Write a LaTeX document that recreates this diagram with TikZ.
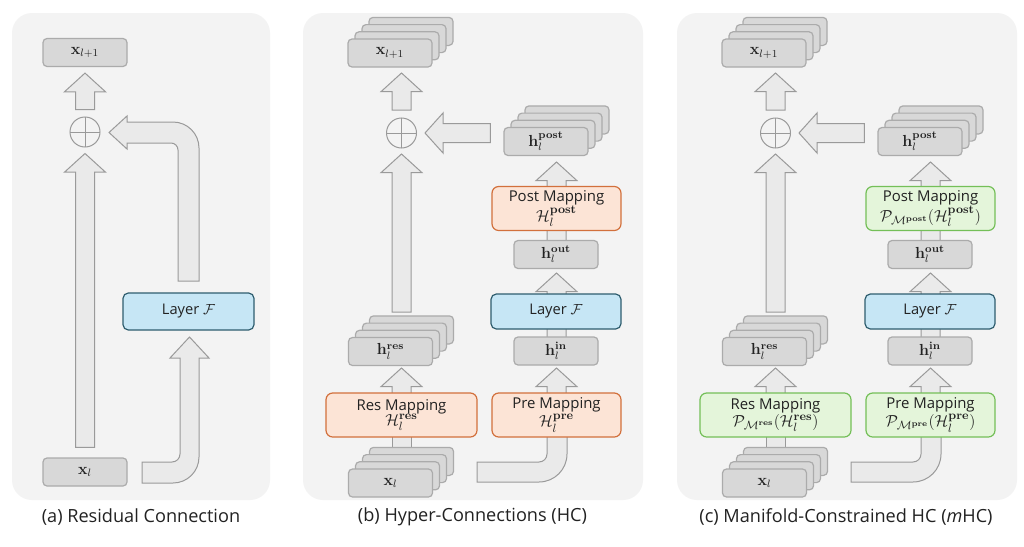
\documentclass[tikz,border=0pt]{standalone}
\usepackage[no-math]{fontspec}
\setmainfont{Open Sans}
\usepackage{amsmath}
\usetikzlibrary{calc}
\definecolor{panelbg}{HTML}{F3F3F3}
\definecolor{arrfill}{HTML}{EAEAEA}
\definecolor{arrline}{HTML}{9A9A9A}
\definecolor{gfill}{HTML}{D8D8D8}
\definecolor{gline}{HTML}{ABABAB}
\definecolor{lfill}{HTML}{C6E6F5}
\definecolor{lline}{HTML}{2E5D6E}
\definecolor{ofill}{HTML}{FCE4D6}
\definecolor{oline}{HTML}{D2703C}
\definecolor{nfill}{HTML}{E4F5DA}
\definecolor{nline}{HTML}{74BF58}
\definecolor{txt}{HTML}{222222}
\tikzset{
  panel/.style={fill=panelbg, draw=none, rounded corners=15pt},
  blk/.style={draw=arrline, fill=arrfill, line width=0.75pt, line join=miter},
  gbox/.style={draw=gline, fill=gfill, line width=0.9pt, rounded corners=3pt, minimum width=63pt, minimum height=21pt, inner sep=0pt, text=txt, font=\fontsize{11.5}{12}\selectfont},
  layerbox/.style={draw=lline, fill=lfill, line width=0.9pt, rounded corners=4pt, minimum width=97.5pt, minimum height=27pt, inner sep=0pt, text=txt, font=\fontsize{11}{12}\selectfont},
  mapbox/.style={line width=0.9pt, rounded corners=5pt, minimum width=96.75pt, minimum height=33pt, inner sep=0pt, align=center, text=txt, font=\fontsize{11.2}{11.5}\selectfont},
  omap/.style={mapbox, draw=oline, fill=ofill},
  nmap/.style={mapbox, draw=nline, fill=nfill},
  plus/.style={circle, draw=arrline, line width=0.75pt, minimum size=22.5pt, inner sep=0pt,
    path picture={\draw[arrline, line width=0.75pt] (path picture bounding box.north) -- (path picture bounding box.south) (path picture bounding box.west) -- (path picture bounding box.east);}},
  captext/.style={text=txt, font=\fontsize{13.6}{15}\selectfont}
}
% straight up arrow: #1 start (bottom centre), #2 tip
\newcommand\UpArr[2]{%
  \draw[blk] let \p1=#1, \p2=#2 in
   (\x1-7.125pt,\y1) -- (\x1-7.125pt,\y2-14pt) -- (\x1-15.375pt,\y2-14pt) -- (\x1,\y2)
   -- (\x1+15.375pt,\y2-14pt) -- (\x1+7.125pt,\y2-14pt) -- (\x1+7.125pt,\y1) -- cycle;}
% straight left arrow: #1 start (right end, x only), #2 tip
\newcommand\LeftArr[2]{%
  \draw[blk] let \p1=#1, \p2=#2 in
   (\x1,\y2+7.125pt) -- (\x2+13.5pt,\y2+7.125pt) -- (\x2+13.5pt,\y2+15pt) -- (\x2,\y2)
   -- (\x2+13.5pt,\y2-15pt) -- (\x2+13.5pt,\y2-7.125pt) -- (\x1,\y2-7.125pt) -- cycle;}
% shaft only
\newcommand\Shaft[2]{%
  \draw[blk] let \p1=#1, \p2=#2 in
   (\x1-7.125pt,\y1) rectangle (\x1+7.125pt,\y2);}
% stack of four boxes, front one named #1 at #2
\newcommand\StackBox[3]{%
  \foreach \k in {3,2,1} {\node[gbox] at ($#2+(7*\k,-7.2*\k)$) {};}
  \node[gbox] (#1) at #2 {#3};}
\newcommand\vx{\mathbf{x}}
\newcommand\vh[1]{\mathbf{h}_l^{\mathbf{#1}}}
\newcommand\mline[1]{{\fontsize{12.5}{12}\selectfont$#1$}}
\newcommand\Hl[1]{\mathcal{H}_l^{\mathbf{#1}}}
\newcommand\PM[1]{\mathcal{P}_{\mathcal{M}^{\mathbf{#1}}}(\mathcal{H}_l^{\mathbf{#1}})}

\begin{document}
\begin{tikzpicture}[x=0.75pt,y=-0.75pt]
\useasboundingbox (0,0) rectangle (1024,546);
\fill[white] (0,0) rectangle (1024,546);

% ================= panel (a) =================
\path[panel] (12,13) rectangle (270,500);
\node[captext] (acap) at (141,517) {(a) Residual Connection};

\node[gbox] (a_x1) at (85,52.5) {$\vx_{l+1}$};
\node[gbox] (a_xl) at (85,472) {$\vx_{l}$};
\node[plus] (a_plus) at (85,132) {};

\UpArr{($(a_plus.north)+(0,-7)$)}{($(a_x1.south)+(0,6)$)}
\UpArr{($(a_xl.north)+(0,-10)$)}{($(a_plus.south)+(0,6)$)}

% bent arrow: Layer -> plus
\draw[blk] (178,281) -- (178,150) arc[start angle=0, end angle=90, radius=5.25pt]
  -- (127,143) -- (127,149) -- (109,132.5) -- (127,116) -- (127,122)
  -- (173,122) arc[start angle=90, end angle=0, radius=19.5pt] -- (199,281) -- cycle;
% bent arrow: x_l -> Layer
\draw[blk] (142,462) -- (172,462) arc[start angle=270, end angle=360, radius=6pt]
  -- (180,358) -- (170,358) -- (189.5,337) -- (209,358) -- (199,358)
  -- (199,457) arc[start angle=0, end angle=-90, radius=19.5pt] -- (142,483) -- cycle;

\node[layerbox, minimum width=98.25pt, minimum height=27.75pt] (a_layer) at (188.5,311.5) {Layer $\mathcal{F}$};

% ================= panels (b) and (c) =================
\foreach \s in {0, 374} {
  \begin{scope}[xshift=\s*0.75pt]
  \path[panel] (303,13) rectangle (643,500);
  % shafts behind boxes
  \Shaft{(401.5,462)}{(401.5,405)}
  \UpArr{(401.5,405)}{(401.5,368)}
  \UpArr{(556.5,405)}{(556.5,368)}
  \UpArr{(556.5,345)}{(556.5,273)}
  \UpArr{(556.5,248)}{(556.5,162)}
  \UpArr{(401.5,312)}{(401.5,154)}
  \UpArr{(401.5,110)}{(401.5,73)}
  % bent arrow from x_l into pre mapping
  \draw[blk] (477,462) -- (539,462) arc[start angle=270, end angle=360, radius=6pt]
    -- (547,405) -- (567,405) -- (567,454) arc[start angle=0, end angle=-90, radius=21pt] -- (477,482) -- cycle;
  \end{scope}
}

% ---- panel (b) nodes ----
\StackBox{b_x1}{(390,53)}{$\vx_{l+1}$}
\node[plus] (b_plus) at (401.5,133) {};
\StackBox{b_hpost}{(546,141.5)}{$\vh{post}$}
\LeftArr{($(b_hpost.west)+(-13,0)$)}{($(b_plus.east)+(8,0)$)}
\node[omap] (b_post) at (556.5,208.5) {Post Mapping\\[0pt]\mline{\Hl{post}}};
\node[gbox] (b_hout) at (556,254.5) {$\vh{out}$};
\node[layerbox, minimum height=26.25pt] (b_layer) at (556,311.5) {Layer $\mathcal{F}$};
\node[gbox] (b_hin) at (556,351) {$\vh{in}$};
\node[omap] (b_pre) at (556.5,415) {Pre Mapping\\[0pt]\mline{\Hl{pre}}};
\StackBox{b_hres}{(390.5,351.5)}{$\vh{res}$}
\node[omap, minimum width=113.25pt] (b_res) at (401.5,415) {Res Mapping\\[0pt]\mline{\Hl{res}}};
\StackBox{b_xl}{(390.5,483)}{$\vx_{l}$}
\node[captext] (bcap) at (472.5,517) {(b) Hyper-Connections (HC)};

% ---- panel (c) nodes ----
\StackBox{c_x1}{(764,53)}{$\vx_{l+1}$}
\node[plus] (c_plus) at (775.5,133) {};
\StackBox{c_hpost}{(920,141.5)}{$\vh{post}$}
\LeftArr{($(c_hpost.west)+(-13,0)$)}{($(c_plus.east)+(8,0)$)}
\node[nmap] (c_post) at (930.5,208.5) {Post Mapping\\[0pt]\mline{\PM{post}}};
\node[gbox] (c_hout) at (930,254.5) {$\vh{out}$};
\node[layerbox, minimum height=26.25pt] (c_layer) at (930,311.5) {Layer $\mathcal{F}$};
\node[gbox] (c_hin) at (930,351) {$\vh{in}$};
\node[nmap] (c_pre) at (930.5,415) {Pre Mapping\\[0pt]\mline{\PM{pre}}};
\StackBox{c_hres}{(764.5,351.5)}{$\vh{res}$}
\node[nmap, minimum width=113.25pt] (c_res) at (775.5,415) {Res Mapping\\[0pt]\mline{\PM{res}}};
\StackBox{c_xl}{(764.5,483)}{$\vx_{l}$}
\node[captext] (ccap) at (846,517) {(c) Manifold-Constrained HC (\textit{m}HC)};
\end{tikzpicture}
\end{document}
